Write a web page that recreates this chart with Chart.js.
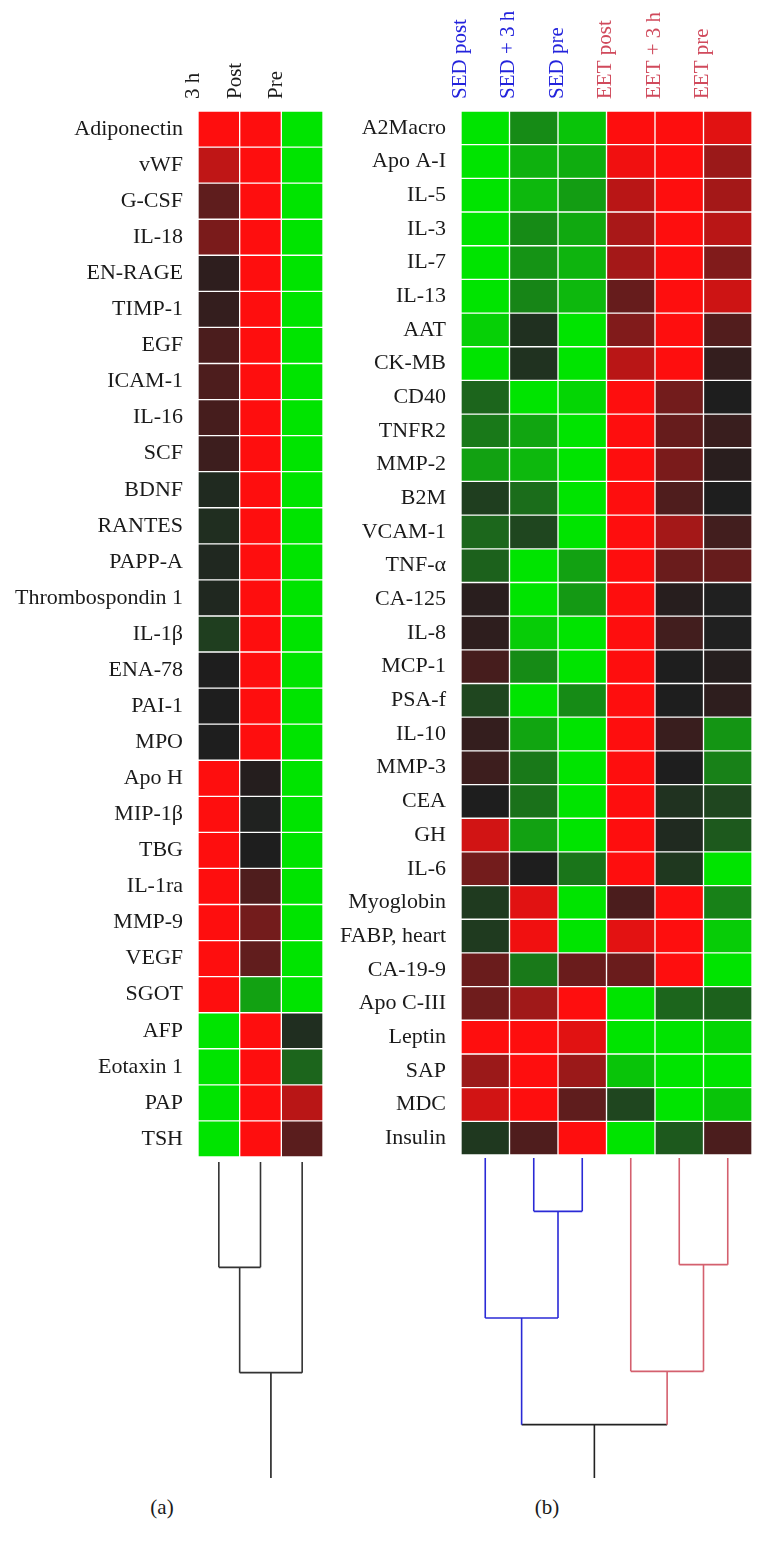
<!DOCTYPE html>
<html>
<head>
<meta charset="utf-8">
<script src="https://cdn.jsdelivr.net/npm/chart.js@4.4.1/dist/chart.umd.min.js"></script>
<style>
  body { margin: 0; background: #fff; width: 766px; height: 1545px; position: relative; overflow: hidden; }
  canvas { position: absolute; }
  .tag { position: absolute; font-family: "Liberation Serif", serif; font-size: 21px; color: #1a1a1a; transform: translate(-50%, -50%); }
</style>
</head>
<body>
<canvas id="heatA" width="340" height="1165" style="left:0;top:0"></canvas>
<canvas id="heatB" width="466" height="1165" style="left:300px;top:0"></canvas>
<canvas id="dendA" width="125" height="316" style="left:198px;top:1162px"></canvas>
<canvas id="dendB" width="291" height="320" style="left:461px;top:1158px"></canvas>
<div class="tag" style="left:162px;top:1507px">(a)</div>
<div class="tag" style="left:547px;top:1507px">(b)</div>
<script>
// ---- panel (a) ----
const colsA = ['3 h', 'Post', 'Pre'];
const rowsA = ['Adiponectin', 'vWF', 'G-CSF', 'IL-18', 'EN-RAGE', 'TIMP-1', 'EGF', 'ICAM-1', 'IL-16', 'SCF',
  'BDNF', 'RANTES', 'PAPP-A', 'Thrombospondin 1', 'IL-1β', 'ENA-78', 'PAI-1', 'MPO', 'Apo H', 'MIP-1β',
  'TBG', 'IL-1ra', 'MMP-9', 'VEGF', 'SGOT', 'AFP', 'Eotaxin 1', 'PAP', 'TSH'];
// +1 = red (up), -1 = green (down), 0 = black
const valsA = [
  [1, 1, -1], [0.72, 1, -1], [0.29, 1, -1], [0.41, 1, -1], [0.07, 1, -1], [0.1, 1, -1], [0.2, 1, -1],
  [0.21, 1, -1], [0.18, 1, -1], [0.14, 1, -1], [-0.06, 1, -1], [-0.08, 1, -1], [-0.05, 1, -1], [-0.05, 1, -1],
  [-0.16, 1, -1], [0, 1, -1], [0, 1, -1], [0, 1, -1], [1, 0.03, -1], [1, -0.02, -1], [1, 0, -1],
  [1, 0.22, -1], [1, 0.38, -1], [1, 0.3, -1], [1, -0.66, -1], [-1, 1, -0.08], [-1, 1, -0.36],
  [-1, 1, 0.69], [-1, 1, 0.27],
];
// merges: [child, child, height]; leaves are 0..n-1, merge k becomes node n+k
const dendA = [[0, 1, 1], [3, 2, 2]];
const rootEndA = 3;

// ---- panel (b) ----
const colsB = ['SED post', 'SED + 3 h', 'SED pre', 'EET post', 'EET + 3 h', 'EET pre'];
const groupsB = ['SED', 'SED', 'SED', 'EET', 'EET', 'EET'];
const rowsB = ['A2Macro', 'Apo A-I', 'IL-5', 'IL-3', 'IL-7', 'IL-13', 'AAT', 'CK-MB', 'CD40', 'TNFR2',
  'MMP-2', 'B2M', 'VCAM-1', 'TNF-α', 'CA-125', 'IL-8', 'MCP-1', 'PSA-f', 'IL-10', 'MMP-3', 'CEA', 'GH',
  'IL-6', 'Myoglobin', 'FABP, heart', 'CA-19-9', 'Apo C-III', 'Leptin', 'SAP', 'MDC', 'Insulin'];
const valsB = [
  [-1, -0.55, -0.84, 1, 1, 0.87],
  [-1, -0.74, -0.72, 0.94, 1, 0.56],
  [-1, -0.78, -0.64, 0.69, 1, 0.6],
  [-1, -0.55, -0.7, 0.62, 1, 0.69],
  [-1, -0.59, -0.76, 0.6, 1, 0.44],
  [-1, -0.52, -0.78, 0.32, 1, 0.78],
  [-0.9, -0.09, -1, 0.44, 1, 0.23],
  [-1, -0.1, -1, 0.69, 1, 0.1],
  [-0.36, -1, -0.93, 1, 0.38, 0],
  [-0.46, -0.68, -1, 1, 0.32, 0.12],
  [-0.66, -0.78, -1, 1, 0.41, 0.05],
  [-0.16, -0.4, -1, 1, 0.22, 0],
  [-0.37, -0.2, -1, 1, 0.6, 0.16],
  [-0.34, -1, -0.66, 1, 0.34, 0.32],
  [0.05, -1, -0.62, 1, 0.04, -0.01],
  [0.07, -0.88, -1, 1, 0.16, -0.01],
  [0.18, -0.55, -1, 1, 0, 0.03],
  [-0.2, -1, -0.55, 1, 0, 0.07],
  [0.1, -0.68, -1, 1, 0.12, -0.6],
  [0.14, -0.46, -1, 1, 0, -0.5],
  [0, -0.42, -1, 1, -0.1, -0.2],
  [0.8, -0.66, -1, 1, -0.06, -0.3],
  [0.38, 0, -0.44, 1, -0.13, -1],
  [-0.14, 0.87, -1, 0.2, 1, -0.5],
  [-0.14, 0.94, -1, 0.88, 1, -0.88],
  [0.34, -0.46, 0.34, 0.34, 1, -1],
  [0.36, 0.58, 1, -1, -0.36, -0.34],
  [1, 1, 0.87, -1, -1, -0.93],
  [0.56, 1, 0.56, -0.84, -1, -1],
  [0.8, 1, 0.29, -0.2, -1, -0.84],
  [-0.13, 0.22, 1, -1, -0.3, 0.2],
];
const dendB = [[1, 2, 1], [4, 5, 2], [0, 6, 3], [3, 7, 4], [8, 9, 5]];
const rootEndB = 6;

const groupColor = { SED: '#2a2ad6', EET: '#d4606e' };
const textColor = { SED: '#2323dc', EET: '#d04a5c' };

Chart.defaults.font.family = "'Liberation Serif', serif";
Chart.defaults.color = '#1a1a1a';

function cellColor(v) {
  if (v >= 0) {
    const r = Math.round(30 + 224 * v), g = Math.round(30 - 16 * v * v);
    return `rgb(${r},${g},${g})`;
  }
  const t = -v;
  const g = Math.round(30 + 198 * t), r = Math.round(32 * (1 - t * t));
  return `rgb(${r},${g},${r})`;
}

function heatmap(id, rows, cols, vals, box, colColor) {
  const canvas = document.getElementById(id);
  new Chart(canvas, {
    type: 'bar',
    data: {
      labels: rows,
      datasets: cols.map((c, j) => ({
        label: c,
        data: rows.map(() => [j, j + 1]),
        backgroundColor: vals.map((r) => cellColor(r[j])),
        borderColor: 'rgba(255,255,255,0.035)',
        borderWidth: 1,
        borderSkipped: false,
        grouped: false,
        barPercentage: 1,
        categoryPercentage: 1,
      })),
    },
    options: {
      indexAxis: 'y',
      responsive: false,
      animation: false,
      devicePixelRatio: 1,
      layout: { padding: { left: 0, top: 0, right: canvas.width - box.right, bottom: canvas.height - box.bottom } },
      plugins: { legend: { display: false }, tooltip: { enabled: false } },
      scales: {
        x: {
          type: 'linear', position: 'top', min: 0, max: cols.length,
          grid: { display: false }, border: { display: false },
          afterBuildTicks: (s) => { s.ticks = cols.map((_, j) => ({ value: j + 0.5 })); },
          ticks: {
            autoSkip: false, minRotation: 90, maxRotation: 90, padding: 4,
            font: { size: 21 },
            color: (ctx) => colColor(ctx.index),
            callback: (v, i) => cols[i],
          },
          afterFit: (s) => { s.height = box.top; s.paddingLeft = 0; s.paddingRight = 0; },
        },
        y: {
          type: 'category', grid: { display: false }, border: { display: false },
          ticks: { autoSkip: false, padding: 7, font: { size: 22 }, color: '#1a1a1a' },
          afterFit: (s) => { s.width = box.left; s.paddingTop = 0; s.paddingBottom = 0; },
        },
      },
    },
  });
}

function dendrogram(id, nLeaves, merges, rootEnd, leafColor) {
  const xs = [], ys = [], cs = [];
  for (let i = 0; i < nLeaves; i++) { xs.push(i + 0.5); ys.push(0); cs.push(leafColor(i)); }
  const sets = [];
  const seg = (pts, color) => sets.push({
    data: pts.map(([x, y]) => ({ x, y })), showLine: true, borderColor: color,
    borderWidth: 1.6, pointRadius: 0, fill: false, clip: false,
  });
  merges.forEach(([a, b, h]) => {
    const color = cs[a] === cs[b] ? cs[a] : '#222';
    seg([[xs[a], ys[a]], [xs[a], h]], cs[a]);
    seg([[xs[b], ys[b]], [xs[b], h]], cs[b]);
    seg([[xs[a], h], [xs[b], h]], color);
    xs.push((xs[a] + xs[b]) / 2); ys.push(h); cs.push(color);
  });
  const root = xs.length - 1;
  seg([[xs[root], ys[root]], [xs[root], rootEnd]], '#222');
  new Chart(document.getElementById(id), {
    type: 'scatter',
    data: { datasets: sets },
    options: {
      responsive: false, animation: false, devicePixelRatio: 1,
      layout: { padding: 0 },
      plugins: { legend: { display: false }, tooltip: { enabled: false } },
      scales: {
        x: { type: 'linear', min: 0, max: nLeaves, display: false },
        y: { type: 'linear', min: 0, max: rootEnd, reverse: true, display: false },
      },
    },
  });
}

heatmap('heatA', rowsA, colsA, valsA, { left: 198, right: 323, top: 111, bottom: 1157 }, () => '#1a1a1a');
heatmap('heatB', rowsB, colsB, valsB, { left: 161, right: 452, top: 111, bottom: 1155 }, (i) => textColor[groupsB[i]]);
dendrogram('dendA', colsA.length, dendA, rootEndA, () => '#333');
dendrogram('dendB', colsB.length, dendB, rootEndB, (i) => groupColor[groupsB[i]]);
</script>
</body>
</html>
